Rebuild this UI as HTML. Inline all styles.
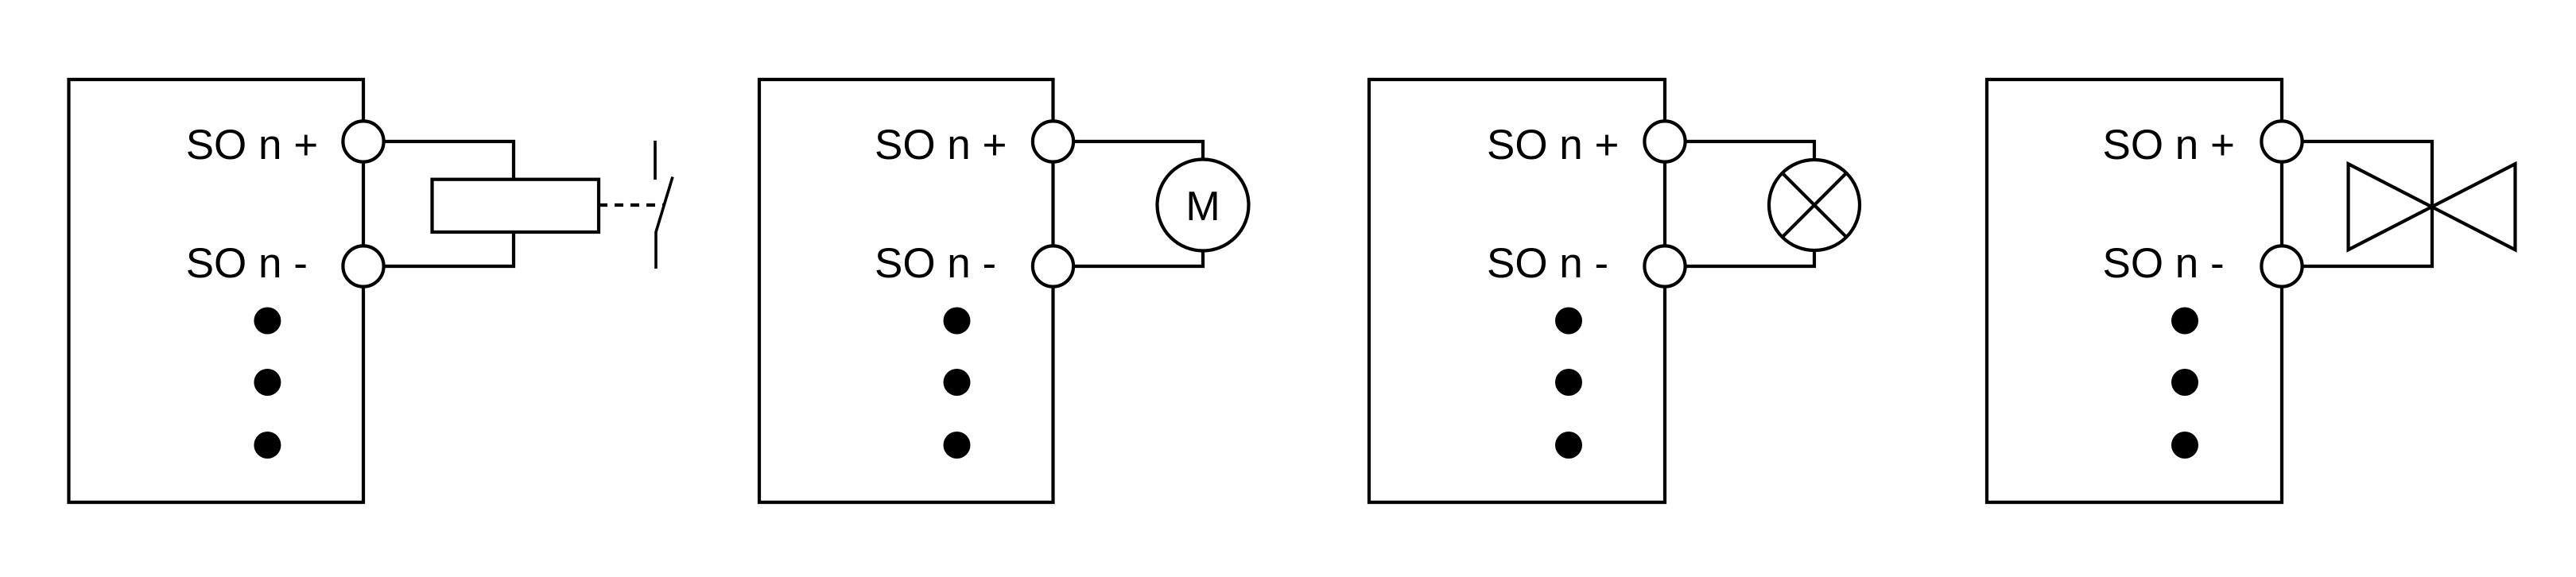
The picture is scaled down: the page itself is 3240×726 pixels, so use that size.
<!DOCTYPE html>
<html><head><meta charset="utf-8"><style>html,body{margin:0;padding:0;background:#fff}svg{display:block}</style></head>
<body>
<svg width="3240" height="726" viewBox="0 0 3240 726" xmlns="http://www.w3.org/2000/svg" font-family="'Liberation Sans', sans-serif" font-size="53" fill="none" stroke="#000" stroke-width="4.2">
<!-- Panel 1 -->
<path d="M457 178 V100 H86.5 V632 H457 V178"/>
<path d="M482.6 178 H646 V225.7 M646 292 V335 H482.6"/>
<rect x="543.5" y="225.7" width="209.5" height="66.3"/>
<line x1="753" y1="258" x2="834" y2="258" stroke-dasharray="11 9"/>
<path d="M824 177 V226 M846 222.5 L825 292 V338" stroke-width="3.6"/>
<circle cx="457" cy="178" r="25.6" fill="#fff"/><circle cx="457" cy="335" r="25.6" fill="#fff"/>
<g fill="#000" stroke="none"><circle cx="336.4" cy="403.5" r="17"/><circle cx="336.4" cy="481" r="17"/><circle cx="336.4" cy="560" r="17"/>
<text x="233.7" y="200">SO n +</text><text x="233.7" y="349">SO n -</text></g>
<!-- Panel 2 -->
<path d="M1324.5 178 V100 H955 V632 H1324.5 V178"/>
<path d="M1350 178 H1513 V200.5 M1513 315.5 V335 H1350"/>
<circle cx="1513" cy="258" r="57.5"/>
<circle cx="1324.5" cy="178" r="25.6" fill="#fff"/><circle cx="1324.5" cy="335" r="25.6" fill="#fff"/>
<g fill="#000" stroke="none"><circle cx="1203.5" cy="403.5" r="17"/><circle cx="1203.5" cy="481" r="17"/><circle cx="1203.5" cy="560" r="17"/>
<text x="1100" y="200">SO n +</text><text x="1100" y="349">SO n -</text>
<text x="1513" y="277" text-anchor="middle" font-size="52">M</text></g>
<!-- Panel 3 -->
<path d="M2094 178 V100 H1722 V632 H2094 V178"/>
<path d="M2119.6 178 H2282 V201 M2282 315 V335 H2119.6"/>
<circle cx="2282" cy="258" r="57"/>
<path d="M2241.7 217.7 L2322.3 298.3 M2322.3 217.7 L2241.7 298.3"/>
<circle cx="2094" cy="178" r="25.6" fill="#fff"/><circle cx="2094" cy="335" r="25.6" fill="#fff"/>
<g fill="#000" stroke="none"><circle cx="1973" cy="403.5" r="17"/><circle cx="1973" cy="481" r="17"/><circle cx="1973" cy="560" r="17"/>
<text x="1870" y="200">SO n +</text><text x="1870" y="349">SO n -</text></g>
<!-- Panel 4 -->
<path d="M2870 178 V100 H2499 V632 H2870 V178"/>
<path d="M2895.6 178 H3059 V335 H2895.6"/>
<path d="M2953.6 206.2 V314.3 L3163.5 206.2 V314.3 Z"/>
<circle cx="2870" cy="178" r="25.6" fill="#fff"/><circle cx="2870" cy="335" r="25.6" fill="#fff"/>
<g fill="#000" stroke="none"><circle cx="2748" cy="403.5" r="17"/><circle cx="2748" cy="481" r="17"/><circle cx="2748" cy="560" r="17"/>
<text x="2644.5" y="200">SO n +</text><text x="2644.5" y="349">SO n -</text></g>
</svg>
</body></html>
